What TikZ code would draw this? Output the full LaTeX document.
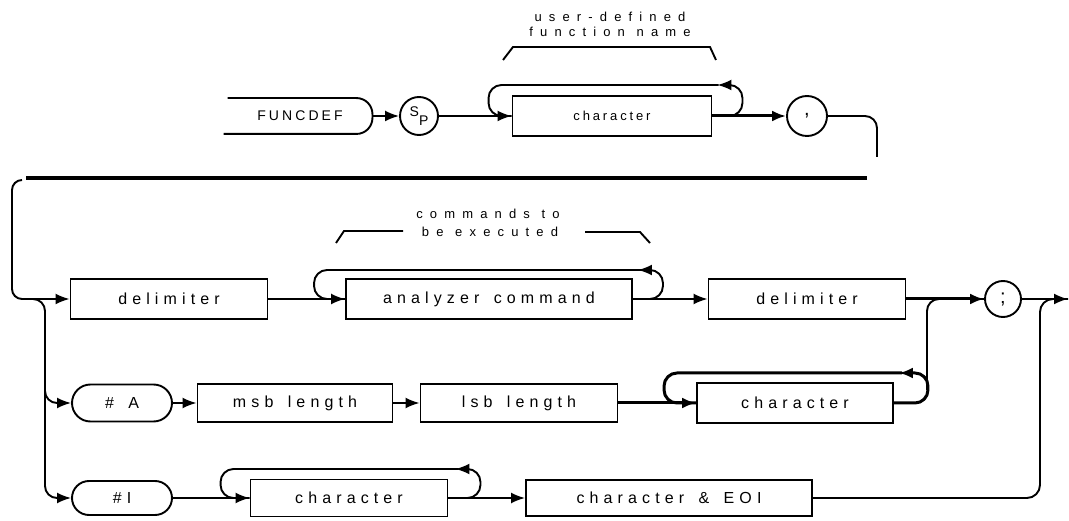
\documentclass[tikz,border=0pt]{standalone}
\usepackage{fontspec}
\usepackage{tikz}
\usetikzlibrary{arrows.meta, positioning, shapes.misc}

\newfontfamily\boxfont[LetterSpace=32]{Liberation Sans}
\newfontfamily\headfont[LetterSpace=22]{Liberation Sans}
\newfontfamily\notefont[LetterSpace=55]{Liberation Sans}
\newfontfamily\plainfont{Liberation Sans}
\newcommand\wgap{\hspace{0.9em}}

\begin{document}
\begin{tikzpicture}[x=1pt, y=-1pt, line width=1.9pt,
    arr/.style={-{Latex[length=14pt,width=11pt]}},
    box/.style={draw, line width=1.9pt, inner sep=0pt, minimum height=38pt,
        font={\boxfont\fontsize{16}{18}\selectfont}},
    headbox/.style={box, font={\headfont\fontsize{13}{15}\selectfont}},
    term/.style={box, rounded rectangle},
    dot/.style={draw, circle, line width=1.9pt, inner sep=0pt, minimum size=38pt,
        font={\plainfont\fontsize{20}{22}\selectfont}},
    note/.style={inner sep=0pt, font={\notefont\fontsize{13}{15}\selectfont}},
    heavy/.style={line width=3pt}]

            % 背景
            \fill[white] (0,0) rectangle (1069,521);
            \useasboundingbox (0,0) rectangle (1069,521);

            % 第一行
            \node[inner sep=0pt, minimum width=143pt, minimum height=34pt,
                font={\headfont\fontsize{14}{16}\selectfont}] (fdef) at (300,116) {FUNCDEF};
            \draw[line width=1.9pt, rounded corners=16pt] (fdef.north west) -- (fdef.north east)
                -- (fdef.south east) -- ([xshift=-4pt]fdef.south west);
            \node[dot, font={\plainfont\fontsize{14}{16}\selectfont}] (sp) at (419,116)
                {\raisebox{4pt}{S}\raisebox{-5pt}{P}};
            \node[headbox, minimum width=199pt, minimum height=40pt] (chr1) at (612,116) {character};
            \node[dot, minimum size=40pt] (comma) at (807,116) {,};

            % 第二行
            \node[box, minimum width=197pt, minimum height=40pt] (delim1) at (169,299) {delimiter};
            \node[box, minimum width=286pt, minimum height=40pt] (acmd) at (489,299) {analyzer\wgap command};
            \node[box, minimum width=197pt, minimum height=40pt] (delim2) at (807,299) {delimiter};
            \node[dot, minimum size=36pt] (semi) at (1003,299) {;};
            \coordinate (out) at (1068,299);

            % 第三行
            \node[term, minimum width=100pt, minimum height=37pt] (hashA) at (122,403) {\#\wgap A};
            \node[box, minimum width=195pt] (msb) at (295,403) {msb\wgap length};
            \node[box, minimum width=197pt] (lsb) at (519,403) {lsb\wgap length};
            \node[box, minimum width=196pt, minimum height=40pt] (chr2) at (795,403) {character};

            % 第四行
            \node[term, minimum width=100pt, minimum height=34pt] (hashI) at (122,498) {\#I};
            \node[box, minimum width=197pt, minimum height=37pt] (chr3) at (349,498) {character};
            \node[box, minimum width=286pt, minimum height=36pt] (ceoi) at (669,498) {character\wgap\&\wgap EOI};

            % 注释
            \node[note] (udef1) at (610,17) {user-defined};
            \node[note] (udef2) at (610,32) {function\wgap name};
            \draw (503,60) -- (513,47) -- (710,47) -- (716,60);
            \node[note] (cmd1) at (488,214) {commands\wgap to};
            \node[note] (cmd2) at (490,232) {be\wgap executed};
            \draw (336,243) -- (344,231) -- (403,231);
            \draw (585,232) -- (640,232) -- (650,243);

            % 第一行连线
            \draw[arr] (fdef.east) -- (sp.west);
            \draw[arr] (sp.east) -- (chr1.west);
            \draw[arr, heavy] (chr1.east) -- (comma.west);
            \draw[arr, rounded corners=13pt] (chr1.east) -- ++(30,0) -- ++(0,-31) -- ++(-25,0);
            \draw[rounded corners=13pt] (chr1.west) -- ++(-23,0) -- ++(0,-31) -- ++(230,0);

            % 换行
            \coordinate (wrapR) at (877,157);
            \coordinate (wrapA) at (867,178);
            \coordinate (wrapB) at (26,178);
            \coordinate (wrapL) at (22,180);
            \draw[rounded corners=12pt] (comma.east) -| (wrapR);
            \draw[line width=3.4pt] (wrapA) -- (wrapB);
            \draw[arr, rounded corners=10pt] (wrapL) -| (12,240) |- (delim1.west);

            % 分支
            \coordinate (split) at (30,299);
            \draw[arr, rounded corners=12pt] (split) -| (45,350) |- (hashA.west);
            \draw[arr, rounded corners=12pt] (45,380) |- (hashI.west);

            % 第二行连线
            \draw[arr] (delim1.east) -- (acmd.west);
            \draw[arr, rounded corners=13pt] (acmd.east) -- ++(30,0) -- ++(0,-29) -- ++(-25,0);
            \draw[rounded corners=13pt] (acmd.west) -- ++(-31,0) -- ++(0,-29) -- ++(327,0);
            \draw[arr] (acmd.east) -- (delim2.west);
            \draw[arr, heavy] (delim2.east) -- (semi.west);
            \draw[arr] (semi.east) -- (out);

            % 第三行连线
            \draw[arr] (hashA.east) -- (msb.west);
            \draw[arr] (msb.east) -- (lsb.west);
            \draw[arr, heavy] (lsb.east) -- (chr2.west);
            \draw[arr, heavy, rounded corners=13pt] (chr2.east) -- ++(34,0) -- ++(0,-30) -- ++(-29,0);
            \draw[heavy, rounded corners=13pt] (chr2.west) -- ++(-32,0) -- ++(0,-30) -- ++(238,0);
            \coordinate (joinA) at (927,390);
            \draw[rounded corners=12pt] (joinA) |- (semi.west);

            % 第四行连线
            \draw[arr] (hashI.east) -- (chr3.west);
            \draw[arr, rounded corners=13pt] (chr3.east) -- ++(32,0) -- ++(0,-29) -- ++(-25,0);
            \draw[rounded corners=13pt] (chr3.west) -- ++(-29,0) -- ++(0,-29) -- ++(238,0);
            \draw[arr] (chr3.east) -- (ceoi.west);
            \draw[rounded corners=13pt] (ceoi.east) -| (1040,400) |- (out);

\end{tikzpicture}
\end{document}
